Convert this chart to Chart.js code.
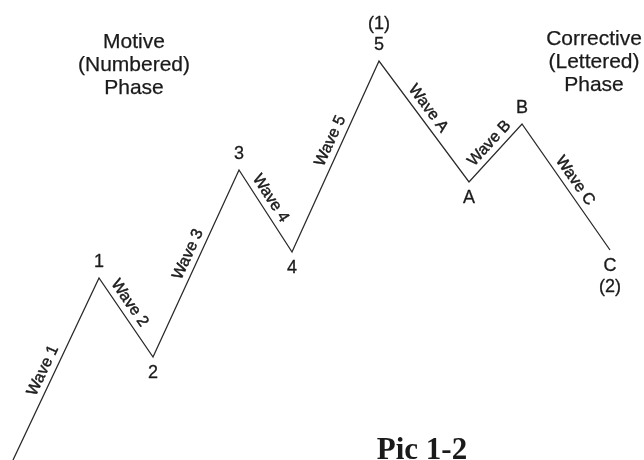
<!DOCTYPE html>
<html>
<head>
<meta charset="utf-8">
<script src="https://cdn.jsdelivr.net/npm/chart.js@4.4.1/dist/chart.umd.min.js"></script>
<style>
  html, body { margin: 0; padding: 0; background: #ffffff; }
  #wrap { width: 644px; height: 460px; position: relative; }
</style>
</head>
<body>
<div id="wrap"><canvas id="c" width="644" height="460"></canvas></div>
<script>
// ---- data (x: time units, y: price units, origin bottom-left) ----
const pointLabels  = ['', '1', '2', '3', '4', '5', 'A', 'B', 'C'];
const xValues      = [13, 99, 153, 239, 292, 379, 469, 522, 610];
const yValues      = [0, 182, 103, 290, 208, 399, 278, 336, 210];
const waveLabels   = ['Wave 1', 'Wave 2', 'Wave 3', 'Wave 4', 'Wave 5', 'Wave A', 'Wave B', 'Wave C'];
const degreeLabels = ['', '', '', '', '', '(1)', '', '', '(2)'];
const motiveTitle     = ['Motive', '(Numbered)', 'Phase'];
const correctiveTitle = ['Corrective', '(Lettered)', 'Phase'];
const caption = 'Pic 1-2';

// styling: shift of each wave label along its segment (px)
const labelShift = [-7, -10, 5, -8, 12, -8, 3, 0];

const points = xValues.map((v, i) => ({ x: v, y: yValues[i] }));

const INK = '#1a1a1a';
const SANS = '"Liberation Sans", Arial, Helvetica, sans-serif';

function heavyText(ctx, t, x, y, w) {
  ctx.lineWidth = w;
  ctx.strokeText(t, x, y);
  ctx.fillText(t, x, y);
}

const annotate = {
  id: 'annotate',
  afterDatasetsDraw(chart) {
    const { ctx, scales: { x, y } } = chart;
    const px = i => x.getPixelForValue(xValues[i]);
    const py = i => y.getPixelForValue(yValues[i]);
    ctx.save();
    ctx.fillStyle = INK;
    ctx.strokeStyle = INK;
    ctx.lineJoin = 'round';
    ctx.textAlign = 'center';
    ctx.textBaseline = 'middle';

    // wave labels along each segment, on the upper side
    ctx.font = '16px ' + SANS;
    for (let i = 0; i < waveLabels.length; i++) {
      const x0 = px(i), y0 = py(i), x1 = px(i + 1), y1 = py(i + 1);
      const ang = Math.atan2(y1 - y0, x1 - x0);
      ctx.save();
      ctx.translate((x0 + x1) / 2, (y0 + y1) / 2);
      ctx.rotate(ang);
      heavyText(ctx, waveLabels[i], labelShift[i], -11, 0.45);
      ctx.restore();
    }

    // point labels (above peaks, below troughs)
    ctx.font = '18px ' + SANS;
    for (let i = 1; i < pointLabels.length; i++) {
      const prev = yValues[i - 1];
      const next = i + 1 < yValues.length ? yValues[i + 1] : -Infinity;
      const isPeak = yValues[i] > prev && yValues[i] > next;
      const dir = isPeak ? -1 : 1;
      const X = px(i), Y = py(i);
      heavyText(ctx, pointLabels[i], X, Y + dir * 16, 0.3);
      if (degreeLabels[i]) heavyText(ctx, degreeLabels[i], X, Y + dir * 37, 0.3);
    }

    // phase headings
    ctx.font = '21px ' + SANS;
    motiveTitle.forEach((t, k) => heavyText(ctx, t, 134, 42 + k * 23, 0.25));
    correctiveTitle.forEach((t, k) => heavyText(ctx, t, 594, 39 + k * 23, 0.25));

    // caption
    ctx.font = 'bold 31px "Liberation Serif", "Times New Roman", serif';
    ctx.textBaseline = 'alphabetic';
    ctx.fillText(caption, 422, 459);
    ctx.restore();
  }
};

new Chart(document.getElementById('c'), {
  type: 'line',
  data: {
    datasets: [{
      data: points,
      borderColor: '#2a2a2a',
      borderWidth: 1.3,
      pointRadius: 0,
      tension: 0,
      fill: false
    }]
  },
  options: {
    responsive: false,
    animation: false,
    devicePixelRatio: 1,
    layout: { padding: 0 },
    plugins: { legend: { display: false }, tooltip: { enabled: false }, title: { display: false } },
    scales: {
      x: { type: 'linear', min: 0, max: 644, display: false },
      y: { type: 'linear', min: 0, max: 460, display: false }
    }
  },
  plugins: [annotate]
});
</script>
</body>
</html>
